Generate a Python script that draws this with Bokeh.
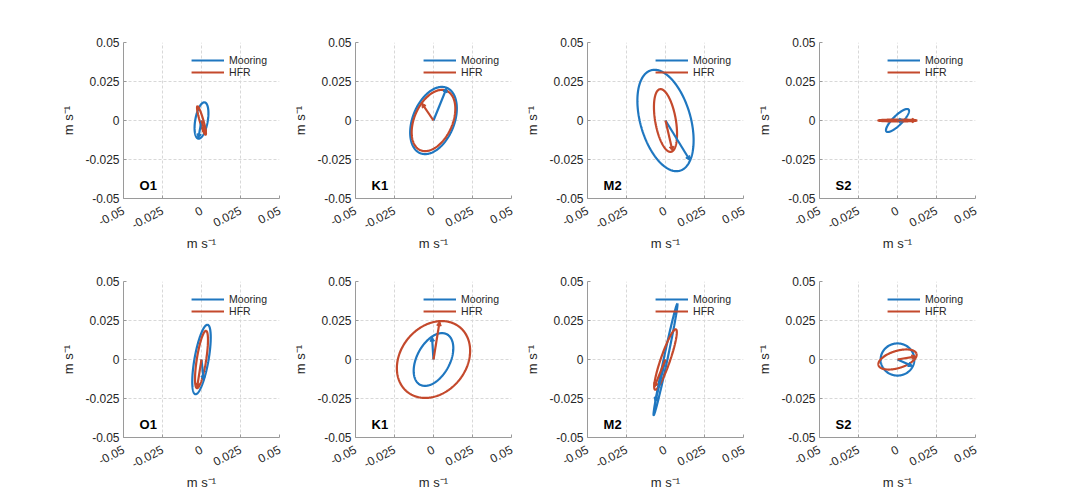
import numpy as np
from bokeh.plotting import figure
from bokeh.layouts import column, row
from bokeh.models import FixedTicker, Arrow, NormalHead, ColumnDataSource
from bokeh.core.properties import value
from bokeh.embed import file_html
from bokeh.resources import INLINE

# ---------------- data ----------------
constituents = ["O1", "K1", "M2", "S2"]
series_names = ["Mooring", "HFR"]

# row 1 (top) ellipse parameters: semi-major, semi-minor (m/s), inclination (deg), vector phase (deg)
top_moor_major = [0.0118, 0.0226, 0.0335, 0.0100]
top_moor_minor = [0.0040, 0.0133, 0.0161, 0.0030]
top_moor_inc = [80, 68, 106, 45]
top_moor_phase = [180, 0, 210, 287]

top_hfr_major = [0.0095, 0.0208, 0.0204, 0.0123]
top_hfr_minor = [0.0012, 0.0122, 0.0066, 0.0006]
top_hfr_inc = [106, 66, 100, 0]
top_hfr_phase = [180, 70, 189, 0]

# row 2 (bottom)
bot_moor_major = [0.0226, 0.0183, 0.0365, 0.0108]
bot_moor_minor = [0.0045, 0.0106, 0.0012, 0.0103]
bot_moor_inc = [80, 62, 78, 0]
bot_moor_phase = [235, 47, 140, 335]

bot_hfr_major = [0.0186, 0.0267, 0.0205, 0.0127]
bot_hfr_minor = [0.0030, 0.0211, 0.0030, 0.0055]
bot_hfr_inc = [81, 51, 71, 17]
bot_hfr_phase = [180, 36, 160, 343]

tick_vals = [-0.05, -0.025, 0, 0.025, 0.05]
tick_labels = ["-0.05", "-0.025", "0", "0.025", "0.05"]
unit_label = "m s\u207b\u00b9"

BLUE = "#1f77c0"
RED = "#c4492c"
FONT = "Liberation Sans"


def ellipse(a, b, inc_deg):
    t = np.linspace(0, 2 * np.pi, 241)
    inc = np.deg2rad(inc_deg)
    x = a * np.cos(t) * np.cos(inc) - b * np.sin(t) * np.sin(inc)
    y = a * np.cos(t) * np.sin(inc) + b * np.sin(t) * np.cos(inc)
    return x, y


def vec_end(a, b, inc_deg, ph_deg):
    t = np.deg2rad(ph_deg)
    inc = np.deg2rad(inc_deg)
    x = a * np.cos(t) * np.cos(inc) - b * np.sin(t) * np.sin(inc)
    y = a * np.cos(t) * np.sin(inc) + b * np.sin(t) * np.cos(inc)
    return float(x), float(y)


def panel(name, moor, hfr, first, top_row):
    p = figure(
        frame_width=156, frame_height=156,
        x_range=(-0.05, 0.05), y_range=(-0.05, 0.05),
        output_backend="svg", toolbar_location=None,
        min_border_left=123 if first else 69, min_border_right=7,
        min_border_top=42 if top_row else 23,
        min_border_bottom=60 if top_row else 52,
    )
    p.outline_line_color = None
    p.background_fill_color = "white"
    for ax in (p.xaxis[0], p.yaxis[0]):
        ax.ticker = FixedTicker(ticks=tick_vals)
        ax.major_label_overrides = {v: s for v, s in zip(tick_vals, tick_labels)}
        ax.minor_tick_line_color = None
        ax.major_tick_in = 3
        ax.major_tick_out = 0
        ax.axis_line_color = "#9a9a9a"
        ax.major_tick_line_color = "#9a9a9a"
        ax.major_label_text_font = FONT
        ax.major_label_text_font_size = "12px"
        ax.major_label_text_color = "#262626"
        ax.axis_label = unit_label
        ax.axis_label_text_font = FONT
        ax.axis_label_text_font_size = "13px"
        ax.axis_label_text_font_style = "normal"
        ax.axis_label_text_color = "#262626"
    p.xaxis.major_label_orientation = 0.48
    p.xaxis.major_label_standoff = 11
    p.yaxis.major_label_standoff = 4
    p.xaxis.axis_label_standoff = 0
    p.yaxis.axis_label_standoff = 6
    p.grid.grid_line_color = "#d8d8d8"
    p.grid.grid_line_dash = "3 2"
    p.grid.grid_line_width = 1

    for (a, b, inc, ph), col, lab in ((moor, BLUE, "Mooring"), (hfr, RED, "HFR")):
        x, y = ellipse(a, b, inc)
        p.line(x, y, line_color=col, line_width=2.2, legend_label=lab)
        ex, ey = vec_end(a, b, inc, ph)
        src = ColumnDataSource(dict(x0=[0.0], y0=[0.0], x1=[ex], y1=[ey]))
        p.add_layout(Arrow(x_start="x0", y_start="y0", x_end="x1", y_end="y1", source=src,
                           line_color=col, line_width=2.2,
                           end=NormalHead(size=4.5, fill_color=col, line_color=col, line_width=1)))

    p.text(x=[-0.0397], y=[-0.0418], text=[name], text_font=value(FONT),
           text_font_style="bold", text_font_size="13px", text_color="black",
           text_baseline="alphabetic", text_align="left")

    lg = p.legend[0]
    lg.location = "top_right"
    lg.border_line_color = None
    lg.background_fill_alpha = 0
    lg.glyph_width = 33
    lg.glyph_height = 12
    lg.label_height = 12
    lg.spacing = 0
    lg.padding = 0
    lg.margin = 12
    lg.label_standoff = 5
    lg.label_text_font = FONT
    lg.label_text_font_size = "10.5px"
    lg.label_text_color = "#262626"
    return p


top_figs = []
bot_figs = []
for i, name in enumerate(constituents):
    top_figs.append(panel(
        name,
        (top_moor_major[i], top_moor_minor[i], top_moor_inc[i], top_moor_phase[i]),
        (top_hfr_major[i], top_hfr_minor[i], top_hfr_inc[i], top_hfr_phase[i]),
        i == 0, True))
    bot_figs.append(panel(
        name,
        (bot_moor_major[i], bot_moor_minor[i], bot_moor_inc[i], bot_moor_phase[i]),
        (bot_hfr_major[i], bot_hfr_minor[i], bot_hfr_inc[i], bot_hfr_phase[i]),
        i == 0, False))

layout = column(row(*top_figs), row(*bot_figs))
open("out.html", "w").write(file_html(layout, INLINE))
